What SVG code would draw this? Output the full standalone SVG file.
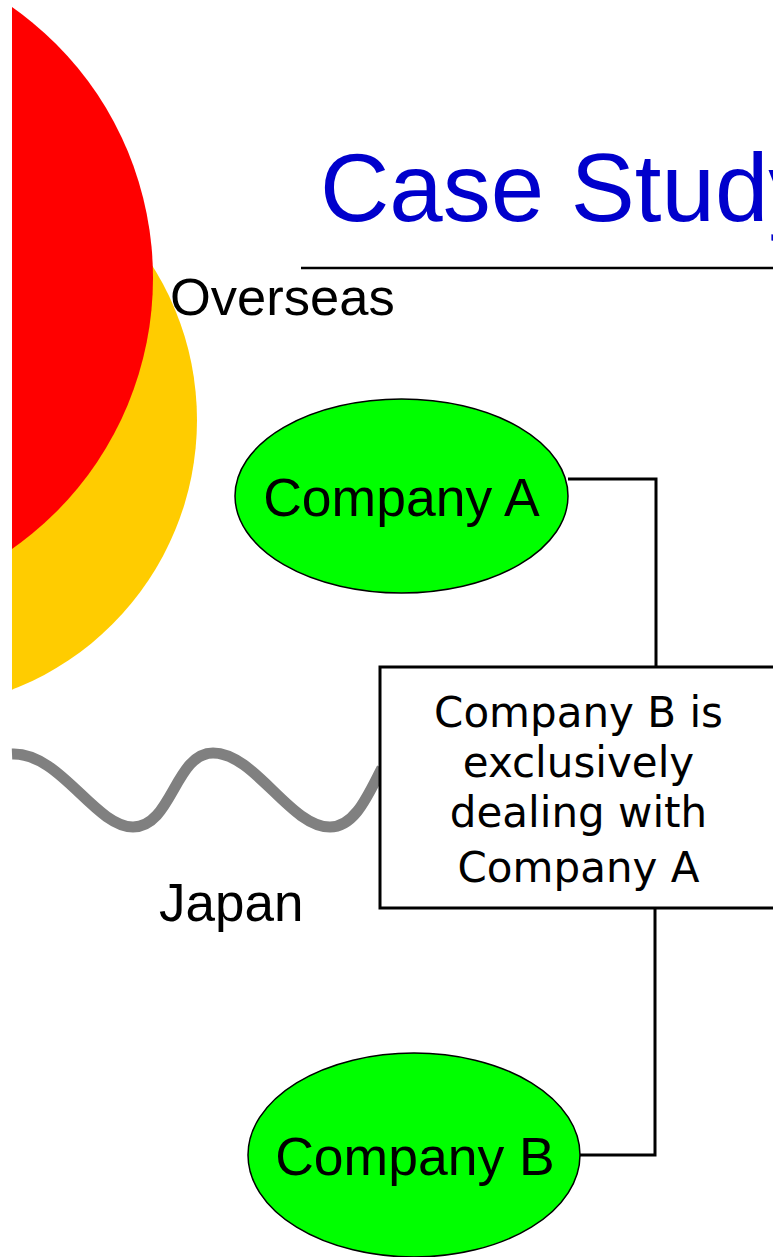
<svg xmlns="http://www.w3.org/2000/svg" width="773" height="1257" viewBox="0 0 773 1257">
  <style>
    .sans { font-family: "Liberation Sans", Arial, sans-serif; fill: #000; }
    .box-text { font-family: "DejaVu Sans", Verdana, sans-serif; font-size: 42px; fill: #000; text-anchor: middle; }
    .company { fill: #00FF00; stroke: #000; stroke-width: 1.5; }
    .conn { fill: none; stroke: #000; stroke-width: 3; }
  </style>
  <defs>
    <clipPath id="leftClip">
      <rect x="12" y="0" width="761" height="1257"/>
    </clipPath>
  </defs>
  <rect width="773" height="1257" fill="#fff"/>

  <g id="background" clip-path="url(#leftClip)">
    <circle cx="-92" cy="420" r="289" fill="#FFCC00"/>
    <circle cx="-178" cy="278" r="331" fill="#FF0000"/>
  </g>

  <g id="title">
    <text class="sans" x="320" y="221" font-size="96" style="fill:#0000CC">Case Study</text>
    <line x1="301" y1="268" x2="773" y2="268" stroke="#000" stroke-width="2.5"/>
  </g>

  <g id="wave">
    <path d="M12,754 C60,752 95,827 133,827 C172,827 175,753 213,753 C255,753 290,827 330,827 C355,827 368,795 382,768" fill="none" stroke="#808080" stroke-width="11"/>
  </g>

  <text id="overseas" class="sans" x="170" y="315" font-size="52.5">Overseas</text>
  <text id="japan" class="sans" x="159" y="921" font-size="53">Japan</text>

  <g id="connectors">
    <polyline class="conn" points="568,479 656,479 656,667"/>
    <polyline class="conn" points="655,909 655,1155 580,1155"/>
  </g>

  <g id="companyA">
    <ellipse class="company" cx="401.5" cy="496" rx="166.5" ry="97"/>
    <text class="sans" x="401.5" y="516" font-size="53.5" text-anchor="middle">Company A</text>
  </g>

  <g id="statement">
    <rect x="380" y="667" width="400" height="241" fill="#fff" stroke="#000" stroke-width="3"/>
    <text class="box-text" x="578.5" y="727">Company B is</text>
    <text class="box-text" x="578.5" y="777">exclusively</text>
    <text class="box-text" x="578.5" y="827">dealing with</text>
    <text class="box-text" x="578.5" y="882">Company A</text>
  </g>

  <g id="companyB">
    <ellipse class="company" cx="414" cy="1155" rx="166" ry="102"/>
    <text class="sans" x="415" y="1175" font-size="53.5" text-anchor="middle">Company B</text>
  </g>
</svg>
